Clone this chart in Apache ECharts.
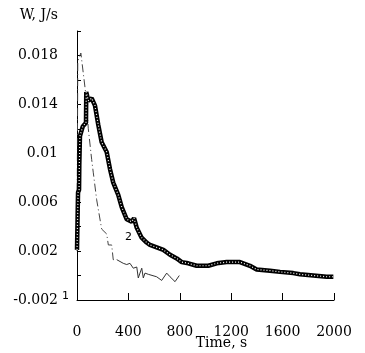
<!DOCTYPE html>
<html>
<head>
<meta charset="utf-8">
<script src="https://cdn.jsdelivr.net/npm/echarts@6/dist/echarts.min.js"></script>
<style>
  html, body { margin: 0; padding: 0; background: #fff; }
  #chart { width: 365px; height: 353px; }
</style>
</head>
<body>
<div id="chart"></div>
<script>
// 曲线1 (点划线部分) [时间 s, W J/s]
var curve1Dash = [
  [0, 0.0020], [6, 0.0175], [30, 0.0182], [70, 0.0147], [88, 0.0120],
  [114, 0.0095], [127, 0.0084], [153, 0.0062], [192, 0.0038], [231, 0.0034],
  [244, 0.0025], [270, 0.0025], [282, 0.0013], [309, 0.0013]
];
// 曲线1 (细实线部分)
var curve1Solid = [
  [309, 0.0013], [360, 0.0010], [387, 0.0009], [412, 0.0010], [438, 0.0006],
  [465, 0.0007], [477, -0.0002], [490, 0.0002], [504, 0.0006], [516, -0.0002],
  [529, 0.0002], [555, 0.0001], [620, -0.0001], [659, -0.0004], [698, 0.0002],
  [724, -0.0001], [763, -0.0005], [796, 0.0000]
];
// 曲线2
var curve2 = [
  [0, 0.0021], [8, 0.0068], [16, 0.0070], [18, 0.0090], [23, 0.0114],
  [45, 0.0122], [70, 0.0125], [72, 0.0150], [88, 0.0143], [114, 0.0145],
  [140, 0.0139], [166, 0.0123], [192, 0.0109], [231, 0.0101], [257, 0.0087],
  [282, 0.0076], [321, 0.0066], [348, 0.0056], [387, 0.0046], [426, 0.0044],
  [444, 0.0047], [465, 0.0039], [503, 0.0031], [542, 0.0027], [568, 0.0025],
  [620, 0.0023], [672, 0.0021], [724, 0.0017], [776, 0.0014], [815, 0.0011],
  [866, 0.0010], [931, 0.0008], [1022, 0.0008], [1087, 0.0010], [1165, 0.0011],
  [1268, 0.0011], [1346, 0.0008], [1398, 0.0005], [1502, 0.0004], [1580, 0.0003],
  [1683, 0.0002], [1735, 0.0001], [1839, 0.0000], [1943, -0.0001], [1995, -0.0001]
];
// 坐标轴刻度
var xTicks = [0, 400, 800, 1200, 1600, 2000];
var yRange = [-0.002, 0.02];
var yStep = 0.002;

var serifFont = 'DejaVu Serif';

var option = {
  backgroundColor: '#fff',
  animation: false,
  grid: { left: 77, right: 31, top: 31, bottom: 53, containLabel: false, outerBoundsMode: 'none' },
  xAxis: {
    type: 'value',
    min: xTicks[0],
    max: xTicks[xTicks.length - 1],
    interval: xTicks[1] - xTicks[0],
    name: 'Time, s',
    nameLocation: 'middle',
    nameGap: 36,
    nameMoveOverlap: false,
    nameTextStyle: { fontFamily: serifFont, fontSize: 14, color: '#000', padding: [0, 0, 0, 32] },
    axisLine: { onZero: false, lineStyle: { color: '#000', width: 1 } },
    axisTick: { inside: true, length: 7, lineStyle: { color: '#000' } },
    axisLabel: {
      margin: 25, fontFamily: serifFont, fontSize: 14, color: '#000',
      formatter: function(v) { return String(v); }
    },
    splitLine: { show: false }
  },
  yAxis: {
    type: 'value',
    min: yRange[0],
    max: yRange[1],
    interval: yStep,
    name: 'W, J/s',
    nameLocation: 'end',
    nameGap: 9,
    nameMoveOverlap: false,
    nameTextStyle: {
      fontFamily: serifFont, fontSize: 14, color: '#000',
      align: 'right', verticalAlign: 'bottom', padding: [0, 19, 0, 0]
    },
    axisLine: { show: true, onZero: false, lineStyle: { color: '#000', width: 1 } },
    axisTick: { show: true, inside: true, length: 4, lineStyle: { color: '#000' } },
    axisLabel: {
      margin: 19,
      fontFamily: serifFont,
      fontSize: 14,
      color: '#000',
      // 每隔一个刻度显示标签
      formatter: function(v) {
        var idx = Math.round((v - yRange[0]) / yStep);
        if (idx % 2 !== 0) {
          return '';
        }
        return String(parseFloat(v.toFixed(4)));
      }
    },
    splitLine: { show: false }
  },
  // 曲线编号
  graphic: [
    { type: 'text', left: 62, top: 291, style: { text: '1', fontFamily: 'DejaVu Sans', fontSize: 11, fill: '#000' } },
    { type: 'text', left: 125, top: 232, style: { text: '2', fontFamily: 'DejaVu Sans', fontSize: 11, fill: '#000' } }
  ],
  series: [
    {
      type: 'line',
      data: curve1Dash,
      showSymbol: false,
      lineStyle: { color: '#444', width: 1, type: [8, 3, 1, 3] }
    },
    {
      type: 'line',
      data: curve1Solid,
      showSymbol: false,
      lineStyle: { color: '#333', width: 1 }
    },
    {
      type: 'line',
      data: curve2,
      showSymbol: false,
      lineStyle: { color: '#000', width: 4.5 }
    },
    {
      // 白色点线模拟空心标记
      type: 'line',
      data: curve2,
      showSymbol: false,
      lineStyle: { color: '#fff', width: 1.2, type: [1, 2] }
    }
  ]
};

var myChart = echarts.init(document.getElementById('chart'));
myChart.setOption(option);
</script>
</body>
</html>
